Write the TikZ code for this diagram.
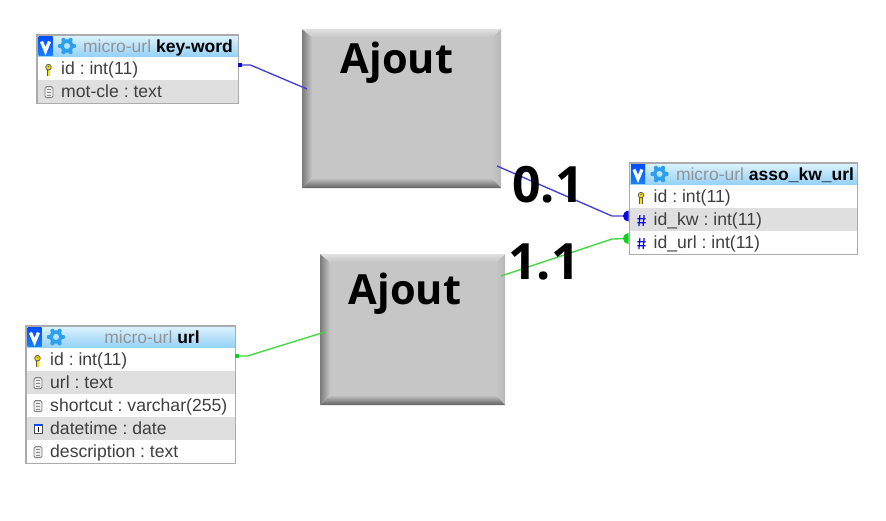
\documentclass[tikz,border=0pt]{standalone}
\usepackage{fontspec}
\usetikzlibrary{calc}
\setmainfont{Liberation Sans}
\newfontfamily\boxfont{Open Sans}[BoldFont={Open Sans Bold}]
\frenchspacing
\definecolor{rowgrey}{HTML}{DFDFDF}
\definecolor{tblborder}{HTML}{ABABAB}
\definecolor{linkblue}{HTML}{4040DC}
\definecolor{linkgreen}{HTML}{3FD83F}
\definecolor{markblue}{HTML}{0A0ADC}
\definecolor{markgreen}{HTML}{10D020}
\definecolor{iconblue}{HTML}{2C9FEE}
\definecolor{boxgrey}{HTML}{C6C6C6}
\definecolor{txt}{HTML}{3F3F3F}
\definecolor{HdrTop}{HTML}{DDF3FF}
\definecolor{HdrBot}{HTML}{92D0F6}
\tikzset{
  hdr/.style={anchor=north west,minimum height=22pt,inner sep=0pt,top color=HdrTop,bottom color=HdrBot},
  hdrtext/.style={inner sep=0pt,font=\frenchspacing\fontsize{17.5pt}{20pt}\selectfont,text height=13pt,text depth=4pt},
  rowbox/.style={anchor=north west,minimum height=22.9pt,inner sep=0pt,align=left,
     font=\frenchspacing\fontsize{17.6pt}{20pt}\selectfont,text=txt},
  rowtext/.style={anchor=base west,inner sep=0pt,font=\frenchspacing\fontsize{17.6pt}{20pt}\selectfont,text=txt},
  tblframe/.style={draw=tblborder,line width=1.1pt},
  link/.style={line width=1.35pt},
  bigtext/.style={inner sep=0pt,font=\boxfont\bfseries\fontsize{41.5pt}{44pt}\selectfont,text=black},
  bignum/.style={inner sep=0pt,font=\boxfont\bfseries\fontsize{50pt}{54pt}\selectfont,text=black},
}
% icons (drawn at a coordinate)
\newcommand{\tblicons}[1]{%
  \begin{scope}[shift={(#1)}]
    \shade[top color=blue!70!cyan,bottom color=blue!55!cyan!90!white] (1.5,1) rectangle (15.5,20.5);
    \draw[white,line width=3.2pt,line join=miter] (4.5,6.5) -- (8.5,16) -- (12.5,6.5);
    \foreach \a in {0,60,...,300}{\fill[iconblue] (30,11)++(\a:7pt) circle[radius=2.2pt];}
    \draw[iconblue,line width=3.4pt] (30,11) circle[radius=5pt];
  \end{scope}}
\newcommand{\keyicon}[1]{%
  \begin{scope}[shift={(#1)}]
    \fill[black!65] (-1.9,0) rectangle (1.9,6.5);
    \fill[yellow!85!orange] (-1,.6) rectangle (1,6);
    \draw[black!65,fill=yellow!80!orange,line width=.8pt] (0,-2.5) circle[radius=2.8pt];
    \fill[black!65] (0,-3) circle[radius=.8pt];
  \end{scope}}
\newcommand{\docicon}[1]{%
  \begin{scope}[shift={(#1)}]
    \draw[black!50,fill=white!92!black,rounded corners=1.5pt,line width=.9pt] (-4,-5) rectangle (4,6);
    \draw[black!45,line width=.7pt] (-2,-2.5) -- (2,-2.5) (-2,.5) -- (2,.5) (-2,3.5) -- (2,3.5);
  \end{scope}}
\newcommand{\calicon}[1]{%
  \begin{scope}[shift={(#1)}]
    \draw[black!70,fill=white,line width=.7pt] (-4,-4.5) rectangle (4,5);
    \fill[blue!70!cyan] (-4.3,-5) rectangle (4.3,-2.5);
    \fill[black] (-.2,-1.5) -- (.9,-1.5) -- (.9,3.5) -- (-.2,3.5) -- cycle;
  \end{scope}}
\newcommand{\hashicon}[1]{%
  \begin{scope}[shift={(#1)}]
    \draw[markblue,line width=1.2pt] (-1.6,-5.5) -- (-2.6,5.5) (2.6,-5.5) -- (1.6,5.5)
      (-4.2,-2) -- (4.2,-2) (-4.2,2) -- (4.2,2);
  \end{scope}}
% bevelled box
\newcommand{\bevelbox}[5]{% x1,y1,x2,y2,name
  \shade[left color=black!52,right color=boxgrey] (#1,#2) -- (#1+10,#2+8) -- (#1+10,#4-10) -- (#1,#4) -- cycle;
  \shade[left color=boxgrey,right color=black!28] (#3-9,#2+8) -- (#3,#2) -- (#3,#4) -- (#3-9,#4-10) -- cycle;
  \shade[top color=black!12,bottom color=boxgrey] (#1,#2) -- (#3,#2) -- (#3-9,#2+8) -- (#1+10,#2+8) -- cycle;
  \shade[top color=boxgrey,bottom color=black!62] (#1+10,#4-10) -- (#3-9,#4-10) -- (#3,#4) -- (#1,#4) -- cycle;
  \node[fill=boxgrey,inner sep=0pt,anchor=north west,minimum width=#3-#1-19,minimum height=#4-#2-18] (#5) at (#1+10,#2+8) {};
}
% one table row: name, top-left, width, fill, text
\newcommand{\tblrow}[5]{%
  \node[rowbox,minimum width=#3pt,fill=#4] (#1) at (#2) {};
  \node[rowtext] (#1t) at ($(#1.west)+(24,5.8)$) {#5};
}
\begin{document}
\begin{tikzpicture}[x=1pt,y=-1pt]
\useasboundingbox (0,0) rectangle (886,520);
\fill[white] (0,0) rectangle (886,520);

% grey boxes
\bevelbox{302}{29}{501}{188}{boxa}
\bevelbox{320}{254}{505}{405}{boxb}
\node[bigtext] (ajouta) at (397,63) {Ajout};
\node[bigtext] (ajoutb) at (405,294) {Ajout};

% free connector ends, where the links disappear behind the boxes
\coordinate (kwin) at (307,89);
\coordinate (kwout) at (497,166);
\coordinate (urlin) at (325,332);
\coordinate (urlout) at (501,276);
\coordinate (askw) at (628.5,216);
\coordinate (asurl) at (628.5,238.5);

% table key-word
\node[hdr,minimum width=201pt] (kwh) at (37,35) {};
\tblrow{kw1}{37,57}{201}{white}{id : int(11)}
\tblrow{kw2}{37,80}{201}{rowgrey}{mot-cle : text}
\draw[tblframe] (kwh.north west) rectangle (kw2.south east);
\node[hdrtext] (kwt) at (158,47.5) {\textcolor{black!42}{micro-url} \textbf{key-word}};
\tblicons{37,35}
\keyicon{$(kw1.west)+(11.5,1)$}
\docicon{$(kw2.west)+(12,0)$}

% table asso_kw_url
\node[hdr,minimum width=228pt] (ash) at (629.5,163) {};
\tblrow{as1}{629.5,185}{228}{white}{id : int(11)}
\tblrow{as2}{629.5,208}{228}{rowgrey}{id\_kw : int(11)}
\tblrow{as3}{629.5,231}{228}{white}{id\_url : int(11)}
\draw[tblframe] (ash.north west) rectangle (as3.south east);
\node[hdrtext] (ast) at (765,175.5) {\textcolor{black!42}{micro-url} \textbf{asso\_kw\_url}};
\tblicons{629.5,163}
\keyicon{$(as1.west)+(11.5,1)$}
\hashicon{$(as2.west)+(12,1)$}
\hashicon{$(as3.west)+(12,1)$}

% table url
\node[hdr,minimum width=209pt] (urh) at (26,326) {};
\tblrow{ur1}{26,348}{209}{white}{id : int(11)}
\tblrow{ur2}{26,371}{209}{rowgrey}{url : text}
\tblrow{ur3}{26,394}{209}{white}{shortcut : varchar(255)}
\tblrow{ur4}{26,417}{209}{rowgrey}{datetime : date}
\tblrow{ur5}{26,440}{209}{white}{description : text}
\draw[tblframe] (urh.north west) rectangle (ur5.south east);
\node[hdrtext] (urt) at (152,338.5) {\textcolor{black!42}{micro-url} \textbf{url}};
\tblicons{26,326}
\keyicon{$(ur1.west)+(11.5,1)$}
\docicon{$(ur2.west)+(12,0)$}
\docicon{$(ur3.west)+(12,0)$}
\calicon{$(ur4.west)+(12,0)$}
\docicon{$(ur5.west)+(12,0)$}

% links
\draw[link,linkblue] (kw1.north east) ++(0,8) -- ++(12,0) -- (kwin);
\fill[markblue] (kw1.north east) ++(0,6) rectangle ++(4,4);
\draw[link,linkblue] (kwout) -- ++(115,50) -- (askw);
\fill[markblue] (askw) ++(0,-5.5) arc[start angle=90,end angle=270,radius=5.5pt] -- cycle;

\draw[link,linkgreen] (ur1.north east) ++(0,8) -- ++(12,0) -- (urlin);
\fill[markgreen] (ur1.north east) ++(0,6) rectangle ++(4,4);
\draw[link,linkgreen] (urlout) -- ++(111,-37) -- (asurl);
\fill[markgreen] (asurl) ++(0,-5.5) arc[start angle=90,end angle=270,radius=5.5pt] -- cycle;

\node[bignum] (n01) at (548,185) {0.1};
\node[bignum] (n11) at (544,261.5) {1.1};
\end{tikzpicture}
\end{document}
